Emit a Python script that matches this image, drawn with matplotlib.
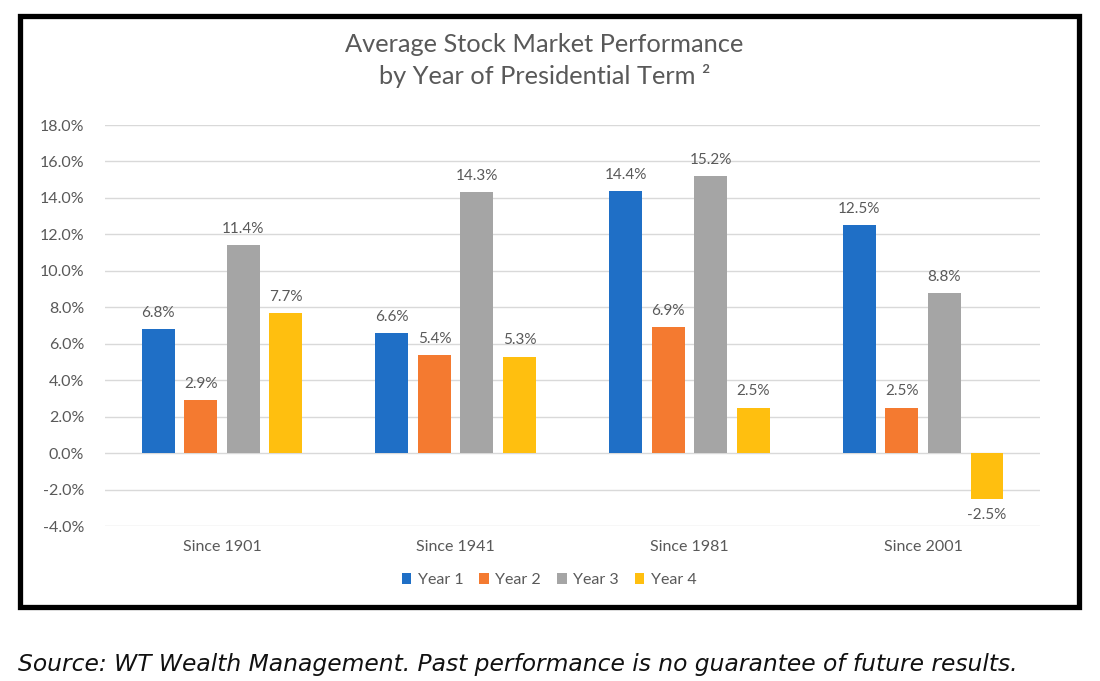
import numpy as np
import matplotlib.pyplot as plt
from matplotlib.patches import Rectangle

# dati
categorie = ["Since 1901", "Since 1941", "Since 1981", "Since 2001"]
serie = ["Year 1", "Year 2", "Year 3", "Year 4"]
year1 = [6.8, 6.6, 14.4, 12.5]
year2 = [2.9, 5.4, 6.9, 2.5]
year3 = [11.4, 14.3, 15.2, 8.8]
year4 = [7.7, 5.3, 2.5, -2.5]
colori = ["#1f6fc6", "#f47a30", "#a5a5a5", "#ffbf0f"]

plt.rcParams['font.family'] = ['Lato', 'DejaVu Sans']
grigio = "#595959"

fig = plt.figure(figsize=(11, 6.81), dpi=100)
ax = fig.add_axes([0.0955, 0.2276, 0.85, 0.5888])

x = np.arange(len(categorie))
larghezza = 0.141
passo = 0.182
valori = [year1, year2, year3, year4]
for k, (nome, v) in enumerate(zip(serie, valori)):
    pos = x + (k - 1.5) * passo
    ax.bar(pos, v, width=larghezza, color=colori[k], label=nome, zorder=3)
    for xi, val in zip(pos, v):
        if val >= 0:
            ax.text(xi, val + 0.5, f"{val:.1f}%", ha="center", va="bottom",
                    fontsize=11, color=grigio)
        else:
            ax.text(xi, val - 0.5, f"{val:.1f}%", ha="center", va="top",
                    fontsize=11, color=grigio)

ax.set_xlim(-0.5, 3.5)
ax.set_ylim(-4, 18)
ax.set_yticks(np.arange(-4, 19, 2))
ax.set_yticklabels([f"{t:.1f}%" for t in np.arange(-4, 19, 2)])
ax.set_xticks(x)
ax.set_xticklabels(categorie)
ax.tick_params(axis="both", length=0, colors=grigio, labelsize=11.5)
ax.tick_params(axis="x", pad=10, labelsize=11.5)
ax.tick_params(axis="y", pad=15)
ax.grid(axis="y", color="#d9d9d9", linewidth=1, zorder=0)
for s in ax.spines.values():
    s.set_visible(False)

ax.legend(loc="center", bbox_to_anchor=(0.475, -0.135), ncol=4, frameon=False,
          fontsize=11.5, handlelength=0.6, handleheight=0.6, handletextpad=0.4,
          columnspacing=1.0, labelcolor=grigio)

fig.text(0.495, 0.935, "Average Stock Market Performance", ha="center", va="center",
         fontsize=18.3, color=grigio)
fig.text(0.495, 0.888, "by Year of Presidential Term \u00b2", ha="center", va="center",
         fontsize=18.3, color=grigio)

# cornice nera
fig.patches.append(Rectangle((20 / 1100, 1 - 607 / 681), 1059 / 1100, 591 / 681,
                             transform=fig.transFigure, fill=False,
                             edgecolor="black", linewidth=3.8))

fig.text(18 / 1100, 1 - 665 / 681,
         "Source: WT Wealth Management. Past performance is no guarantee of future results.",
         ha="left", va="center", fontsize=16.8, style="italic", color="#111111",
         family="DejaVu Sans")

fig.savefig("out.png", dpi=100)
